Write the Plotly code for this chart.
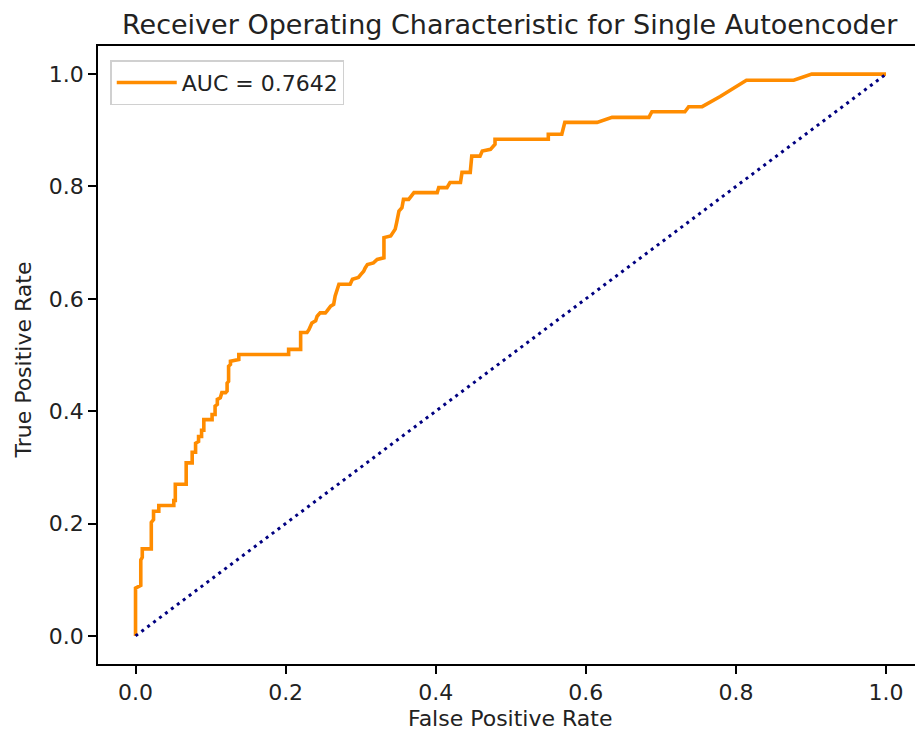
import plotly.graph_objects as go

# ROC curve points (false positive rate, true positive rate)
fpr = [0.000, 0.000, 0.007, 0.007, 0.009, 0.009, 0.021, 0.021, 0.024, 0.024,
       0.031, 0.031, 0.051, 0.051, 0.053, 0.053, 0.0675, 0.0675, 0.0755, 0.0755,
       0.080, 0.080, 0.084, 0.084, 0.088, 0.088, 0.091, 0.091, 0.102, 0.102,
       0.106, 0.106, 0.109, 0.109, 0.113, 0.115, 0.120, 0.122, 0.122, 0.124,
       0.124, 0.1265, 0.1265, 0.1376, 0.1376, 0.204, 0.204, 0.220, 0.220, 0.2285,
       0.231, 0.235, 0.240, 0.242, 0.246, 0.253, 0.255, 0.260, 0.264, 0.266,
       0.271, 0.286, 0.289, 0.297, 0.300, 0.304, 0.306, 0.309, 0.317, 0.322,
       0.331, 0.331, 0.340, 0.346, 0.348, 0.351, 0.355, 0.357, 0.364, 0.371,
       0.402, 0.404, 0.415, 0.419, 0.433, 0.435, 0.446, 0.448, 0.459, 0.462,
       0.473, 0.479, 0.479, 0.550, 0.550, 0.568, 0.572, 0.615, 0.635, 0.684,
       0.688, 0.732, 0.737, 0.755, 0.779, 0.814, 0.877, 0.901, 1.000]
tpr = [0.000, 0.085, 0.090, 0.135, 0.140, 0.155, 0.155, 0.202, 0.207, 0.222,
       0.222, 0.232, 0.232, 0.241, 0.241, 0.270, 0.270, 0.308, 0.308, 0.327,
       0.327, 0.343, 0.346, 0.355, 0.355, 0.366, 0.366, 0.385, 0.385, 0.394,
       0.394, 0.409, 0.412, 0.421, 0.424, 0.433, 0.433, 0.436, 0.450, 0.453,
       0.480, 0.483, 0.489, 0.492, 0.501, 0.501, 0.510, 0.510, 0.540, 0.540,
       0.545, 0.557, 0.561, 0.569, 0.575, 0.575, 0.578, 0.587, 0.590, 0.605,
       0.626, 0.626, 0.635, 0.638, 0.643, 0.649, 0.655, 0.661, 0.664, 0.670,
       0.673, 0.709, 0.712, 0.724, 0.736, 0.756, 0.762, 0.777, 0.777, 0.789,
       0.789, 0.798, 0.798, 0.807, 0.807, 0.825, 0.825, 0.854, 0.854, 0.863,
       0.866, 0.875, 0.884, 0.884, 0.893, 0.893, 0.914, 0.914, 0.923, 0.923,
       0.933, 0.933, 0.942, 0.942, 0.960, 0.989, 0.989, 1.000, 1.000]

auc_value = 0.7642
chance_x = [0.0, 1.0]
chance_y = [0.0, 1.0]
ticks = [0.0, 0.2, 0.4, 0.6, 0.8, 1.0]
tick_text = ["0.0", "0.2", "0.4", "0.6", "0.8", "1.0"]

FONT = "DejaVu Sans"
BASE = 22
TITLE = 27

fig = go.Figure()
fig.add_trace(go.Scatter(
    x=fpr, y=tpr, mode="lines",
    line=dict(color="darkorange", width=3.6),
    name=f"AUC = {auc_value:.4f}",
))
fig.add_trace(go.Scatter(
    x=chance_x, y=chance_y, mode="lines",
    line=dict(color="navy", width=3, dash="3px,4.4px"),
    showlegend=False,
))

axis_common = dict(
    showgrid=False, zeroline=False,
    showline=True, linecolor="black", linewidth=1.8,
    ticks="outside", ticklen=8, tickwidth=1.8, tickcolor="black",
    tickvals=ticks, ticktext=tick_text,
    tickfont=dict(family=FONT, size=BASE, color="#222222"),
)

fig.update_layout(
    width=915, height=733,
    margin=dict(l=97.5, r=0, t=46, b=69),
    paper_bgcolor="white", plot_bgcolor="white",
    xaxis=dict(range=[-0.05, 1.0386], mirror=True, **axis_common),
    yaxis=dict(range=[-0.05, 1.05], mirror=False, **axis_common),
    showlegend=True,
    legend=dict(
        x=0.015, y=0.977, xanchor="left", yanchor="top",
        bgcolor="rgba(255,255,255,0.8)", bordercolor="#d0d0d0", borderwidth=1.5,
        itemwidth=60,
        font=dict(family=FONT, size=BASE, color="#222222"),
    ),
    annotations=[
        dict(text="Receiver Operating Characteristic for Single Autoencoder",
             x=510, y=24, showarrow=False,
             font=dict(family=FONT, size=TITLE, color="#222222")),
        dict(text="False Positive Rate", x=510, y=719, showarrow=False,
             font=dict(family=FONT, size=BASE, color="#222222")),
        dict(text="True Positive Rate", x=22, y=360, showarrow=False, textangle=-90,
             font=dict(family=FONT, size=BASE, color="#222222")),
    ],
)

# convert the text annotation positions from page pixels to paper units
W, H = 915, 733
l, t, b = 97.5, 46, 69
pw, ph = W - l, H - t - b
for ann in fig.layout.annotations:
    px, py = ann.x, ann.y
    ann.xref = "paper"
    ann.yref = "paper"
    ann.x = (px - l) / pw
    ann.y = (H - b - py) / ph
    ann.xanchor = "center"
    ann.yanchor = "middle"

fig.write_html("out.html")
